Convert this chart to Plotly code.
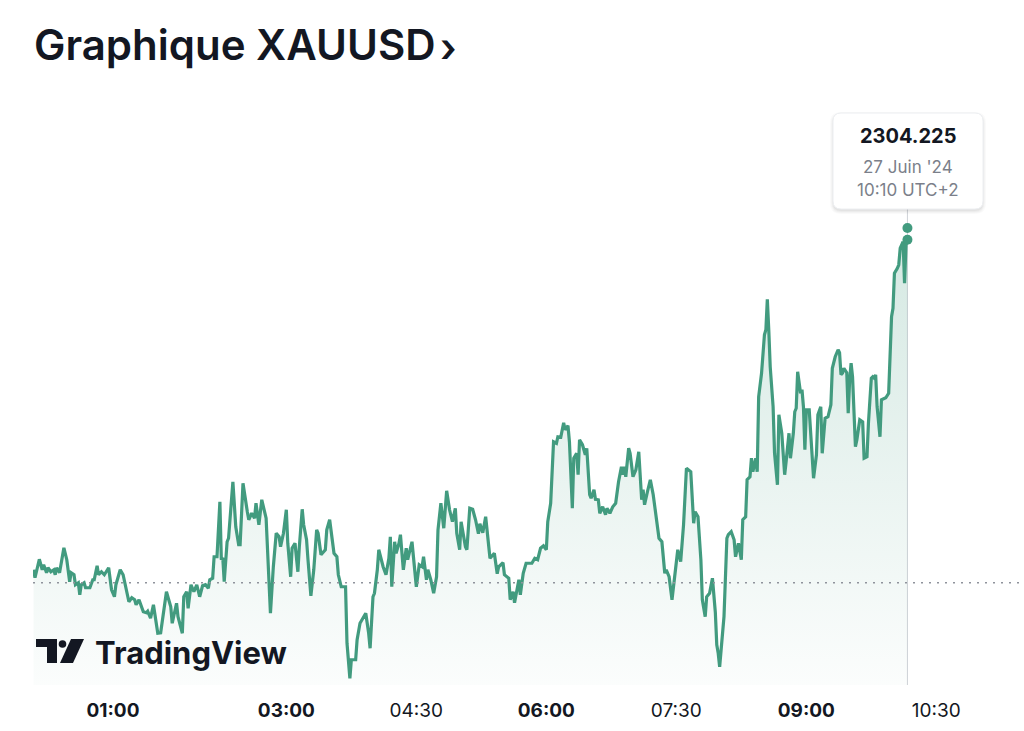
import pandas as pd
import plotly.graph_objects as go

# XAUUSD, 27 June 2024 (UTC+2)
times = [
    "00:05", "00:06", "00:09", "00:11", "00:12", "00:14", "00:15", "00:17", "00:19", "00:20",
    "00:21", "00:23", "00:26", "00:28", "00:30", "00:31", "00:33", "00:34", "00:36", "00:37",
    "00:38", "00:40", "00:41", "00:44", "00:46", "00:47", "00:49", "00:50", "00:52", "00:54",
    "00:57", "00:59", "01:01", "01:02", "01:04", "01:05", "01:07", "01:09", "01:11", "01:13",
    "01:15", "01:16", "01:18", "01:21", "01:23", "01:24", "01:26", "01:28", "01:31", "01:33",
    "01:37", "01:40", "01:41", "01:44", "01:45", "01:48", "01:49", "01:51", "01:52", "01:54",
    "01:56", "01:58", "02:00", "02:02", "02:04", "02:06", "02:07", "02:09", "02:10", "02:12",
    "02:14", "02:15", "02:16", "02:17", "02:19", "02:20", "02:23", "02:25", "02:27", "02:28",
    "02:30", "02:33", "02:34", "02:36", "02:38", "02:39", "02:41", "02:43", "02:45", "02:46",
    "02:49", "02:51", "02:53", "02:55", "02:56", "02:58", "03:00", "03:01", "03:03", "03:04",
    "03:06", "03:08", "03:09", "03:11", "03:12", "03:14", "03:15", "03:17", "03:19", "03:21",
    "03:22", "03:23", "03:24", "03:27", "03:28", "03:30", "03:31", "03:33", "03:35", "03:36",
    "03:38", "03:41", "03:42", "03:44", "03:45", "03:48", "03:49", "03:51", "03:53", "03:55",
    "03:57", "03:58", "04:00", "04:01", "04:03", "04:04", "04:07", "04:09", "04:11", "04:12",
    "04:13", "04:15", "04:16", "04:18", "04:19", "04:21", "04:23", "04:24", "04:27", "04:28",
    "04:30", "04:32", "04:34", "04:35", "04:37", "04:38", "04:40", "04:42", "04:44", "04:45",
    "04:47", "04:49", "04:50", "04:51", "04:53", "04:55", "04:57", "04:58", "05:00", "05:01",
    "05:04", "05:05", "05:07", "05:09", "05:11", "05:13", "05:14", "05:16", "05:18", "05:19",
    "05:21", "05:24", "05:26", "05:27", "05:30", "05:31", "05:34", "05:35", "05:37", "05:38",
    "05:41", "05:42", "05:44", "05:46", "05:50", "05:52", "05:54", "05:56", "05:58", "06:00",
    "06:01", "06:03", "06:05", "06:07", "06:08", "06:10", "06:12", "06:13", "06:15", "06:16",
    "06:18", "06:19", "06:21", "06:22", "06:23", "06:25", "06:27", "06:28", "06:30", "06:31",
    "06:33", "06:34", "06:36", "06:37", "06:39", "06:41", "06:42", "06:44", "06:46", "06:48",
    "06:50", "06:52", "06:53", "06:54", "06:55", "06:57", "06:58", "07:00", "07:02", "07:04",
    "07:06", "07:07", "07:08", "07:10", "07:12", "07:14", "07:16", "07:18", "07:20", "07:22",
    "07:23", "07:25", "07:27", "07:29", "07:31", "07:33", "07:35", "07:37", "07:40", "07:42",
    "07:43", "07:45", "07:47", "07:48", "07:50", "07:51", "07:53", "07:55", "07:57", "07:58",
    "07:59", "08:00", "08:03", "08:05", "08:06", "08:08", "08:10", "08:11", "08:13", "08:15",
    "08:16", "08:18", "08:19", "08:21", "08:22", "08:23", "08:25", "08:26", "08:27", "08:29",
    "08:31", "08:32", "08:33", "08:34", "08:35", "08:37", "08:38", "08:40", "08:41", "08:43",
    "08:45", "08:46", "08:48", "08:49", "08:51", "08:52", "08:53", "08:54", "08:56", "08:57",
    "08:58", "08:59", "09:00", "09:02", "09:04", "09:05", "09:07", "09:08", "09:10", "09:11",
    "09:13", "09:15", "09:17", "09:18", "09:20", "09:22", "09:23", "09:24", "09:25", "09:26",
    "09:28", "09:29", "09:30", "09:31", "09:32", "09:34", "09:35", "09:37", "09:39", "09:40",
    "09:42", "09:43", "09:45", "09:46", "09:47", "09:48", "09:49", "09:51", "09:52", "09:55",
    "09:57", "09:58", "09:59", "10:00", "10:01", "10:03", "10:04", "10:05", "10:07", "10:08",
    "10:09", "10:10",
]
prices = [
    2297.39, 2297.23, 2297.60, 2297.39, 2297.49, 2297.33, 2297.43, 2297.35, 2297.39, 2297.29,
    2297.43, 2297.33, 2297.83, 2297.59, 2297.15, 2297.33, 2297.29, 2297.09, 2297.13, 2296.89,
    2297.09, 2297.13, 2297.03, 2297.03, 2297.19, 2297.19, 2297.47, 2297.29, 2297.35, 2297.29,
    2297.43, 2296.99, 2296.85, 2297.09, 2297.29, 2297.39, 2297.29, 2297.05, 2296.75, 2296.83,
    2296.79, 2296.69, 2296.79, 2296.55, 2296.53, 2296.56, 2296.42, 2296.69, 2296.12, 2296.13,
    2296.95, 2296.65, 2296.32, 2296.72, 2296.45, 2296.12, 2296.85, 2296.95, 2296.62, 2297.09,
    2296.95, 2297.09, 2296.85, 2297.07, 2297.09, 2297.02, 2297.19, 2297.22, 2297.65, 2297.65,
    2298.75, 2297.59, 2297.63, 2297.15, 2297.95, 2298.02, 2299.15, 2298.25, 2297.89, 2297.89,
    2299.12, 2298.55, 2298.39, 2298.52, 2298.42, 2298.72, 2298.29, 2298.79, 2298.51, 2298.42,
    2296.52, 2297.45, 2298.12, 2298.05, 2297.85, 2298.12, 2298.59, 2297.92, 2297.25, 2297.82,
    2297.92, 2297.35, 2297.85, 2298.60, 2298.29, 2297.99, 2297.59, 2296.87, 2297.39, 2298.19,
    2298.12, 2297.92, 2297.69, 2297.79, 2298.19, 2298.39, 2298.15, 2297.72, 2297.65, 2297.29,
    2297.05, 2297.05, 2295.92, 2295.22, 2295.59, 2295.59, 2295.99, 2296.32, 2296.42, 2296.52,
    2296.12, 2295.82, 2296.85, 2296.92, 2297.39, 2297.79, 2297.45, 2297.29, 2297.62, 2298.05,
    2297.05, 2297.95, 2297.72, 2297.92, 2298.09, 2297.39, 2297.82, 2297.59, 2297.95, 2297.69,
    2297.05, 2297.49, 2297.45, 2297.65, 2297.19, 2297.39, 2297.19, 2296.92, 2297.25, 2298.19,
    2298.72, 2298.22, 2298.52, 2298.97, 2298.59, 2298.35, 2298.62, 2298.12, 2297.79, 2298.35,
    2297.85, 2297.79, 2298.62, 2298.60, 2298.39, 2298.11, 2298.31, 2298.13, 2298.45, 2298.11,
    2297.62, 2297.72, 2297.31, 2297.45, 2297.53, 2297.29, 2297.22, 2296.79, 2296.95, 2296.73,
    2297.19, 2296.89, 2297.32, 2297.52, 2297.52, 2297.62, 2297.59, 2297.82, 2297.87, 2297.79,
    2298.35, 2298.72, 2299.95, 2299.92, 2300.05, 2300.04, 2300.33, 2300.19, 2300.27, 2299.95,
    2298.62, 2299.62, 2299.72, 2299.29, 2299.99, 2299.89, 2299.69, 2299.82, 2298.89, 2298.82,
    2298.99, 2298.80, 2298.79, 2298.52, 2298.65, 2298.49, 2298.62, 2298.52, 2298.65, 2298.72,
    2299.15, 2299.45, 2299.29, 2299.45, 2299.25, 2299.82, 2299.72, 2299.25, 2299.39, 2299.75,
    2298.79, 2298.99, 2298.69, 2298.95, 2299.19, 2298.89, 2298.42, 2298.02, 2297.95, 2297.32,
    2297.39, 2297.25, 2296.79, 2297.32, 2297.79, 2297.55, 2298.29, 2299.42, 2299.35, 2298.32,
    2298.55, 2298.45, 2297.59, 2296.79, 2296.45, 2296.85, 2296.92, 2297.22, 2296.54, 2295.89,
    2295.72, 2295.45, 2296.45, 2298.02, 2298.09, 2298.15, 2297.99, 2297.65, 2297.92, 2297.59,
    2298.39, 2298.45, 2299.19, 2299.25, 2299.62, 2299.35, 2299.62, 2299.35, 2300.85, 2301.32,
    2302.09, 2302.19, 2302.80, 2302.19, 2301.45, 2300.65, 2299.72, 2299.09, 2300.49, 2300.12,
    2299.29, 2299.55, 2300.12, 2299.62, 2300.12, 2300.55, 2300.62, 2301.35, 2300.92, 2300.99,
    2300.65, 2299.79, 2300.59, 2300.59, 2299.69, 2299.22, 2299.69, 2300.49, 2300.65, 2299.72,
    2300.42, 2300.45, 2300.69, 2301.42, 2301.65, 2301.79, 2301.73, 2301.29, 2301.32, 2301.42,
    2301.33, 2300.52, 2301.19, 2301.52, 2301.25, 2299.85, 2299.99, 2300.39, 2300.35, 2299.62,
    2299.65, 2300.32, 2301.22, 2301.25, 2301.22, 2301.29, 2300.65, 2300.05, 2300.79, 2300.83,
    2300.92, 2301.59, 2302.45, 2302.62, 2303.32, 2303.42, 2303.49, 2303.82, 2303.95, 2303.12,
    2303.89, 2303.99,
]
prev_close = 2297.13
quote_time = "10:10"
quote_price = 2304.225
quote_date = "27 Juin '24"
quote_tz = "UTC+2"

tick_times = ["01:00", "03:00", "04:30", "06:00", "07:30", "09:00", "10:30"]
tick_labels = ["<b>01:00</b>", "<b>03:00</b>", "04:30", "<b>06:00</b>",
               "07:30", "<b>09:00</b>", "10:30"]

day = "2024-06-27 "
x = pd.to_datetime([day + t for t in times])
y_low, y_high = 2295.085, 2306.785

GREEN = "#429b7f"
INK = "#131722"

# pixel -> paper helpers for the decorations (plot area 33..1024 x 100..685)
def fx(p):
    return (p - 33) / 991

def fy(p):
    return (685 - p) / 585

def round_rect(x0, y0, x1, y1, r):
    rx, ry = r / 991, r / 585
    a, b, c, d = fx(x0), fy(y1), fx(x1), fy(y0)
    return (f"M {a+rx},{b} L {c-rx},{b} Q {c},{b} {c},{b+ry} L {c},{d-ry} "
            f"Q {c},{d} {c-rx},{d} L {a+rx},{d} Q {a},{d} {a},{d-ry} "
            f"L {a},{b+ry} Q {a},{b} {a+rx},{b} Z")

fig = go.Figure()
fig.add_trace(go.Scatter(x=x, y=[y_low] * len(x), mode="lines",
                         line=dict(width=0), hoverinfo="skip"))
fig.add_trace(go.Scatter(
    x=x, y=prices, mode="lines", fill="tonexty",
    line=dict(color=GREEN, width=3.2),
    fillgradient=dict(type="vertical", start=y_low, stop=max(prices),
                      colorscale=[[0, "rgba(66,155,127,0.02)"],
                                  [1, "rgba(66,155,127,0.22)"]]),
    hoverinfo="skip",
))
fig.add_trace(go.Scatter(
    x=pd.to_datetime([day + quote_time, day + quote_time]),
    y=[quote_price, prices[-1]], mode="markers",
    marker=dict(color=GREEN, size=10), hoverinfo="skip",
))

shapes = [
    dict(type="line", xref="paper", yref="y", x0=0, x1=1, y0=prev_close, y1=prev_close,
         line=dict(color="#8f939c", width=1.5, dash="2px,6px"), layer="above"),
    dict(type="line", xref="x", yref="paper", x0=day + quote_time, x1=day + quote_time,
         y0=0, y1=fy(209), line=dict(color="#cfd2d8", width=1), layer="below"),
]
# tooltip shadow + box
for i, op in enumerate([0.035, 0.03, 0.025, 0.02]):
    shapes.append(dict(type="path", xref="paper", yref="paper",
                       path=round_rect(833 - i, 113 - i + 2, 983 + i, 209 + i + 2, 8 + i),
                       fillcolor=f"rgba(0,0,0,{op})", line=dict(width=0)))
shapes.append(dict(type="path", xref="paper", yref="paper",
                   path=round_rect(833, 113, 983, 209, 8),
                   fillcolor="white", line=dict(color="#eceef1", width=1)))
# TradingView logo mark
shapes += [
    dict(type="path", xref="paper", yref="paper", fillcolor=INK, line=dict(width=0),
         path=f"M {fx(36)},{fy(639)} L {fx(57)},{fy(639)} L {fx(57)},{fy(663)} "
              f"L {fx(47)},{fy(663)} L {fx(47)},{fy(647)} L {fx(36)},{fy(647)} Z"),
    dict(type="circle", xref="paper", yref="paper", fillcolor=INK, line=dict(width=0),
         x0=fx(58.7), x1=fx(66.3), y0=fy(647.8), y1=fy(640.2)),
    dict(type="path", xref="paper", yref="paper", fillcolor=INK, line=dict(width=0),
         path=f"M {fx(71)},{fy(639)} L {fx(84)},{fy(639)} L {fx(73)},{fy(663)} "
              f"L {fx(60)},{fy(663)} Z"),
]

annotations = [
    dict(text="Graphique XAUUSD", xref="paper", yref="paper", x=fx(32), y=fy(45),
         xanchor="left", yanchor="middle", showarrow=False,
         font=dict(family="Inter", size=42, color=INK, weight=600)),
    dict(text="›", xref="paper", yref="paper", x=fx(438), y=fy(47),
         xanchor="left", yanchor="middle", showarrow=False,
         font=dict(family="Inter", size=40, color=INK, weight=600)),
    dict(text="TradingView", xref="paper", yref="paper", x=fx(93), y=fy(652),
         xanchor="left", yanchor="middle", showarrow=False,
         font=dict(family="Inter", size=31, color=INK, weight=700)),
    dict(text=f"<b>{quote_price:.3f}</b>", xref="paper", yref="paper", x=fx(908), y=fy(136),
         xanchor="center", yanchor="middle", showarrow=False,
         font=dict(family="Inter", size=20, color=INK)),
    dict(text=quote_date, xref="paper", yref="paper", x=fx(908), y=fy(167),
         xanchor="center", yanchor="middle", showarrow=False,
         font=dict(family="Inter", size=17, color="#7b7f8a")),
    dict(text=f"{quote_time} {quote_tz}", xref="paper", yref="paper", x=fx(908), y=fy(190),
         xanchor="center", yanchor="middle", showarrow=False,
         font=dict(family="Inter", size=17, color="#7b7f8a")),
]

fig.update_layout(
    width=1024, height=731,
    margin=dict(l=33, r=0, t=100, b=46),
    paper_bgcolor="white", plot_bgcolor="white",
    showlegend=False, hovermode=False,
    shapes=shapes, annotations=annotations,
    xaxis=dict(type="date", range=[day + "00:04:37", day + "11:30:42"],
               tickvals=[day + t for t in tick_times], ticktext=tick_labels,
               showgrid=False, zeroline=False, showline=False, ticks="",
               ticklabelstandoff=12,
               tickfont=dict(family="Inter", size=19, color=INK)),
    yaxis=dict(visible=False, range=[y_low, y_high]),
)

fig.write_html("out.html", config={"displayModeBar": False},
               post_script="document.body.style.margin='0';")
